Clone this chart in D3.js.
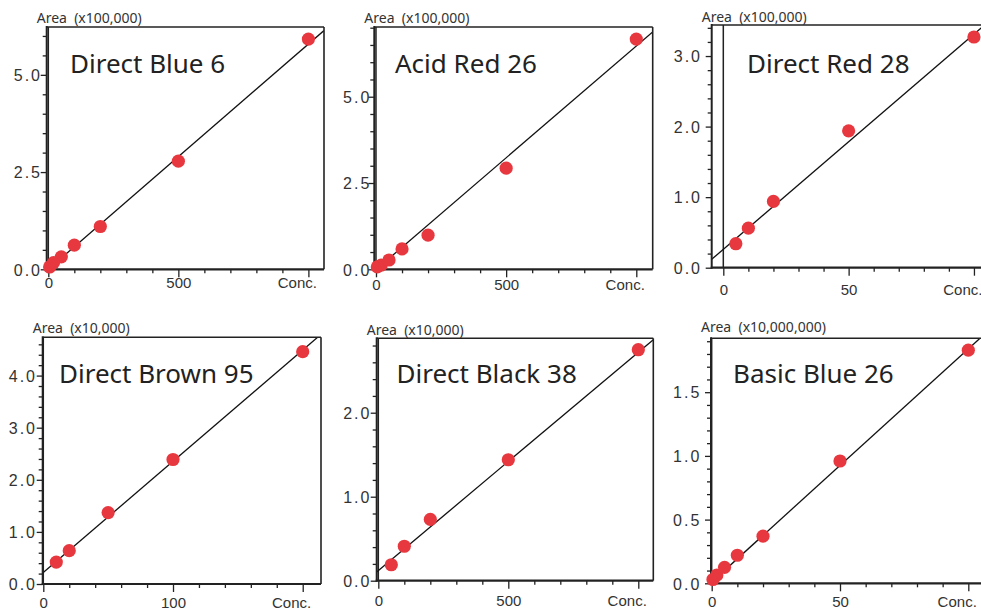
<!DOCTYPE html>
<html>
<head>
<meta charset="utf-8">
<script src="https://cdn.jsdelivr.net/npm/d3@7"></script>
<style>
  body { margin: 0; background: #fff; }
  svg { display: block; font-family: "Noto Sans", "Open Sans", sans-serif; }
</style>
</head>
<body>
<div id="chart"></div>
<script>
// ---- data ----
var panelNames = ["Direct Blue 6", "Acid Red 26", "Direct Red 28",
                  "Direct Brown 95", "Direct Black 38", "Basic Blue 26"];
var areaUnits = ["Area  (x100,000)", "Area  (x100,000)", "Area  (x100,000)",
                 "Area  (x10,000)", "Area  (x10,000)", "Area  (x10,000,000)"];

var concDirectBlue6 = [5, 20, 50, 100, 200, 500, 1000];
var areaDirectBlue6 = [0.06, 0.17, 0.32, 0.62, 1.10, 2.78, 5.92];
var concAcidRed26 = [5, 20, 50, 100, 200, 500, 1000];
var areaAcidRed26 = [0.07, 0.12, 0.27, 0.59, 0.99, 2.93, 6.67];
var concDirectRed28 = [5, 10, 20, 50, 100];
var areaDirectRed28 = [0.34, 0.56, 0.94, 1.94, 3.27];
var concDirectBrown95 = [10, 20, 50, 100, 200];
var areaDirectBrown95 = [0.42, 0.64, 1.37, 2.39, 4.46];
var concDirectBlack38 = [50, 100, 200, 500, 1000];
var areaDirectBlack38 = [0.19, 0.41, 0.73, 1.44, 2.75];
var concBasicBlue26 = [0.5, 2, 5, 10, 20, 50, 100];
var areaBasicBlue26 = [0.03, 0.065, 0.125, 0.22, 0.37, 0.96, 1.83];

// calibration lines (intercept, slope) as drawn
var fitIntercept = [0.0, -0.01, 0.26, 0.22, 0.12, 0.01];
var fitSlope = [0.00579, 0.00648, 0.0305, 0.02135, 0.0026, 0.0183];

// axis ticks
var xMajorTicks = [[0, 500, 1000], [0, 500, 1000], [0, 50, 100],
                   [0, 100, 200], [0, 500, 1000], [0, 50, 100]];
var xMinorStep = [100, 100, 10, 20, 100, 10];
var yLabelTicks = [[0, 2.5, 5.0], [0, 2.5, 5.0], [0, 1, 2, 3],
                   [0, 1, 2, 3, 4], [0, 1, 2], [0, 0.5, 1.0, 1.5]];
var yMinorStep = [0.5, 0.5, 0.2, 0.2, 0.2, 0.1];
var xDomains = [[-6.2, 1060], [-6.5, 1063], [-4.63, 108.4],
                [-0.46, 214.1], [-6.2, 1057.7], [-0.27, 110.4]];
var yMax = [6.23, 7.02, 3.44, 4.735, 2.886, 1.923];

var concs = [concDirectBlue6, concAcidRed26, concDirectRed28,
             concDirectBrown95, concDirectBlack38, concBasicBlue26];
var areas = [areaDirectBlue6, areaAcidRed26, areaDirectRed28,
             areaDirectBrown95, areaDirectBlack38, areaBasicBlue26];

// ---- layout (pixels) ----
var boxes = [
  { left: 46.7, right: 324, top: 27, bottom: 269.3, titleX: 70, titleY: 73, xLab: 19, yPad: 6.7, areaDy: 3.7 },
  { left: 374.3, right: 652.7, top: 27, bottom: 269.3, titleX: 395, titleY: 73, xLab: 21, yPad: 5, areaDy: 3.7 },
  { left: 711.7, right: 995, top: 25, bottom: 267.7, titleX: 747, titleY: 73, xLab: 27.5, yPad: 11.7, areaDy: 3.3 },
  { left: 42.7, right: 321, top: 337.3, bottom: 584, titleX: 59, titleY: 383, xLab: 23.5, yPad: 7.7, areaDy: 4 },
  { left: 376.7, right: 653.3, top: 338.3, bottom: 580.7, titleX: 396.5, titleY: 383, xLab: 25.5, yPad: 7.3, areaDy: 3.3 },
  { left: 711, right: 995, top: 338.3, bottom: 583.3, titleX: 733, titleY: 383, xLab: 24, yPad: 11.7, areaDy: 6.5 }
];

var width = 981;
var height = 611;
var ink = "#222";
var textColor = "#333";

var svg = d3.select("#chart").append("svg")
  .attr("width", width)
  .attr("height", height);

panelNames.forEach(function (name, i) {
  var b = boxes[i];
  var x = d3.scaleLinear().domain(xDomains[i]).range([b.left, b.right]);
  var y = d3.scaleLinear().domain([0, yMax[i]]).range([b.bottom, b.top]);
  var g = svg.append("g");

  g.append("clipPath").attr("id", "clip" + i)
    .append("rect")
    .attr("x", b.left).attr("y", b.top)
    .attr("width", b.right - b.left).attr("height", b.bottom - b.top);

  // minor ticks
  var xMinor = d3.range(0, xDomains[i][1], xMinorStep[i])
    .filter(function (v) { return xMajorTicks[i].indexOf(v) < 0; });
  var yMinor = d3.range(0, yMax[i], yMinorStep[i])
    .filter(function (v) { return !yLabelTicks[i].some(function (t) { return Math.abs(t - v) < 1e-6; }); });

  g.append("g")
    .attr("transform", "translate(0," + b.bottom + ")")
    .call(d3.axisBottom(x).tickValues(xMinor).tickSize(4).tickFormat(""))
    .call(function (a) { a.select(".domain").remove(); });
  g.append("g")
    .attr("transform", "translate(" + b.left + ",0)")
    .call(d3.axisLeft(y).tickValues(yMinor).tickSize(4).tickFormat(""))
    .call(function (a) { a.select(".domain").remove(); });

  // major x ticks with labels
  var nMaj = xMajorTicks[i].length;
  var xAx = g.append("g")
    .attr("transform", "translate(0," + b.bottom + ")")
    .call(d3.axisBottom(x).tickValues(xMajorTicks[i]).tickSize(8)
      .tickFormat(function (d, k) { return k === nMaj - 1 ? "Conc." : d3.format("d")(d); }));
  xAx.select(".domain").remove();
  xAx.selectAll("text")
    .attr("y", b.xLab).attr("dy", 0)
    .attr("fill", textColor).style("font-size", "15px");
  xAx.selectAll(".tick").filter(function (d, k) { return k === nMaj - 1; })
    .select("text").attr("text-anchor", "end").attr("x", 8);

  // major y ticks with labels
  var yAx = g.append("g")
    .attr("transform", "translate(" + b.left + ",0)")
    .call(d3.axisLeft(y).tickValues(yLabelTicks[i]).tickSize(6)
      .tickFormat(d3.format(".1f")));
  yAx.select(".domain").remove();
  yAx.selectAll("text")
    .attr("x", -b.yPad + 2).attr("dy", "0.36em")
    .attr("fill", textColor).style("font-size", "16px")
    .style("letter-spacing", "2px");

  g.selectAll(".tick line").attr("stroke", ink).attr("stroke-width", 1.3);

  var plot = g.append("g").attr("clip-path", "url(#clip" + i + ")");

  // zero line
  plot.append("line")
    .attr("x1", x(0)).attr("x2", x(0))
    .attr("y1", b.top).attr("y2", b.bottom)
    .attr("stroke", ink).attr("stroke-width", 1.5);

  // calibration line
  var xd = xDomains[i];
  plot.append("line")
    .attr("x1", x(xd[0])).attr("y1", y(fitIntercept[i] + fitSlope[i] * xd[0]))
    .attr("x2", x(xd[1])).attr("y2", y(fitIntercept[i] + fitSlope[i] * xd[1]))
    .attr("stroke", "#111").attr("stroke-width", 1.3);

  // frame
  g.append("line").attr("x1", b.left).attr("x2", b.right).attr("y1", b.top).attr("y2", b.top)
    .attr("stroke", ink).attr("stroke-width", 1.6);
  g.append("line").attr("x1", b.right).attr("x2", b.right).attr("y1", b.top).attr("y2", b.bottom)
    .attr("stroke", ink).attr("stroke-width", 1.6);
  g.append("line").attr("x1", b.left).attr("x2", b.left).attr("y1", b.top - 1).attr("y2", b.bottom + 1)
    .attr("stroke", ink).attr("stroke-width", 2);
  g.append("line").attr("x1", b.left - 1).attr("x2", b.right).attr("y1", b.bottom).attr("y2", b.bottom)
    .attr("stroke", ink).attr("stroke-width", 2.2);

  // points
  g.selectAll("circle.pt")
    .data(concs[i].map(function (c, k) { return { conc: c, area: areas[i][k] }; }))
    .enter().append("circle")
    .attr("class", "pt")
    .attr("cx", function (d) { return x(d.conc); })
    .attr("cy", function (d) { return y(d.area); })
    .attr("r", 6.6)
    .attr("fill", "#e8383f");

  // title and unit label
  g.append("text")
    .attr("x", b.titleX).attr("y", b.titleY)
    .attr("fill", "#222").style("font-size", "26px")
    .text(name);
  g.append("text")
    .attr("x", b.left - 10).attr("y", b.top - b.areaDy)
    .attr("fill", textColor).style("font-size", "14px")
    .style("white-space", "pre")
    .text(areaUnits[i]);
});
</script>
</body>
</html>
